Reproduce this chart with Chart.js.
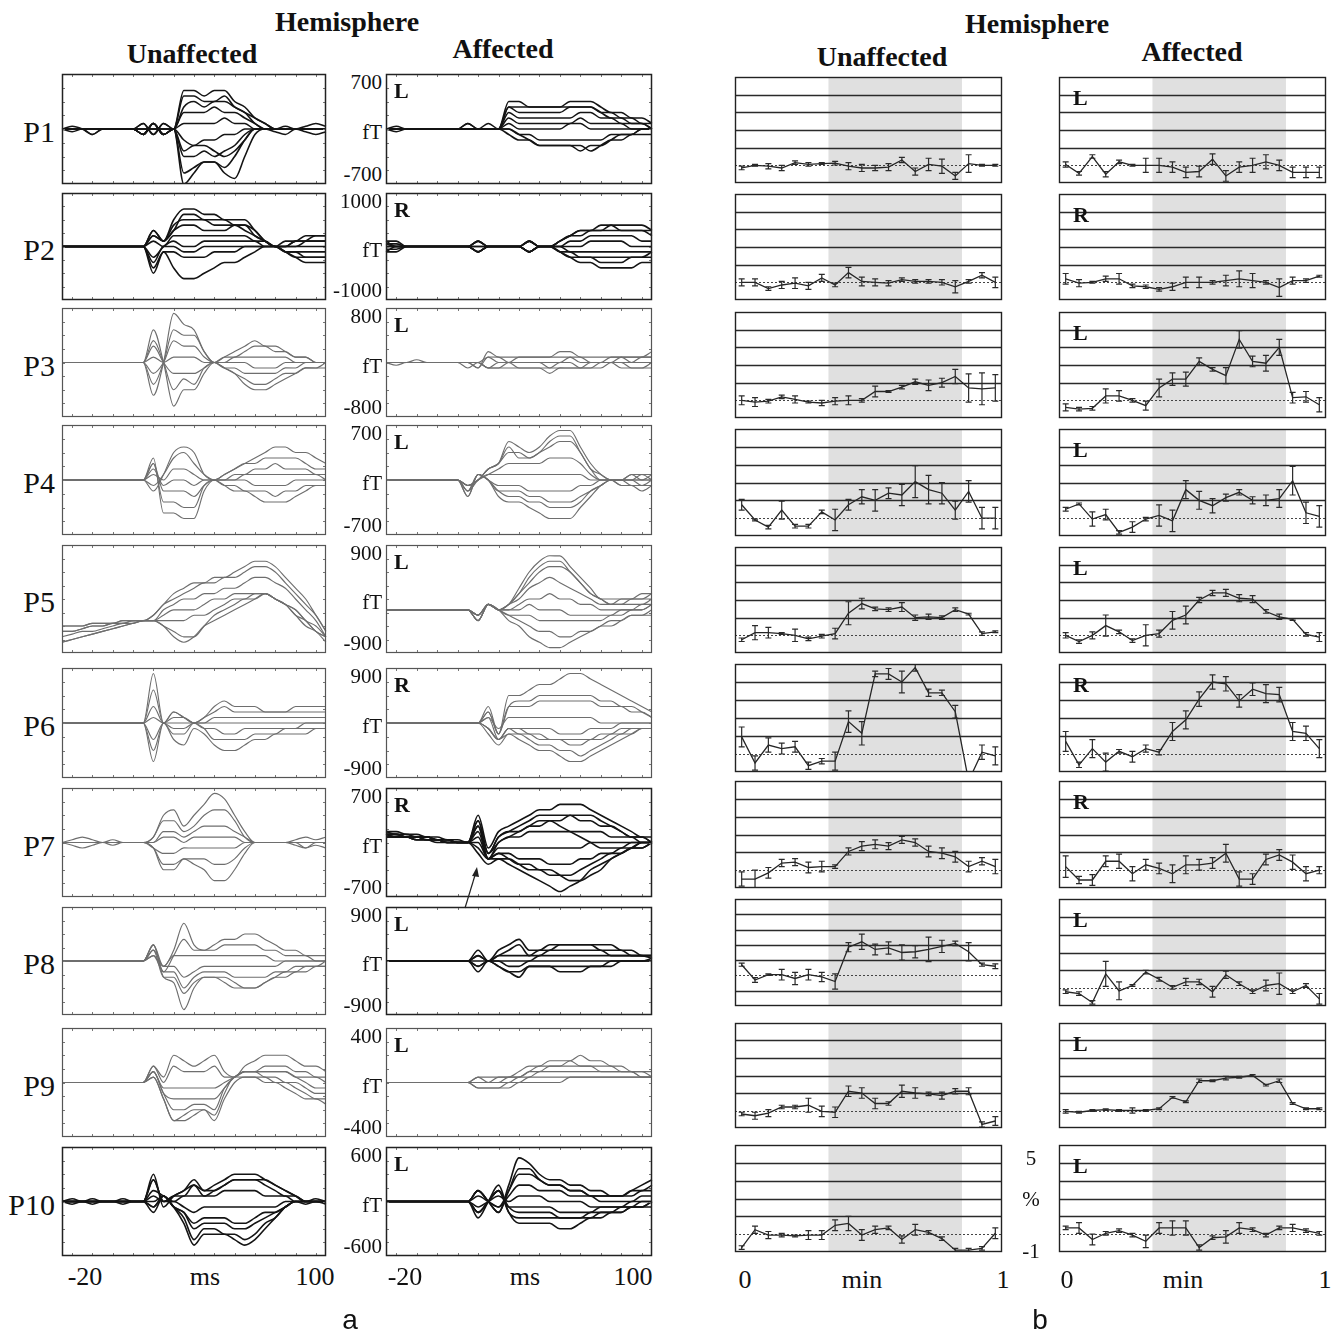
<!DOCTYPE html>
<html>
<head>
<meta charset="utf-8">
<script src="https://cdn.jsdelivr.net/npm/chart.js@4.4.1/dist/chart.umd.min.js"></script>
<style>
body { margin: 0; background: #fff; }
#page { position: relative; width: 1337px; height: 1332px; overflow: hidden; font-family: "Liberation Serif", "Times New Roman", serif; color: #111; }
#page canvas, #page svg { position: absolute; }
.t { position: absolute; white-space: nowrap; line-height: 1; }
.head { font-weight: bold; font-size: 28px; }
.row { font-size: 30px; }
.ax { font-size: 21px; }
.side { font-weight: bold; font-size: 22px; }
.tick { font-size: 26px; }
.part { font-family: "Liberation Sans", Arial, sans-serif; font-size: 28px; }
</style>
</head>
<body>
<div id="page"></div>
<script>
// time samples (ms) for the field traces, and minutes for the % change curves
const msTimes = [-25,-20,-15,-10,-5,0,5,10,15,20,25,30,35,40,45,50,55,60,65,70,75,80,85,90,95,100,105];
const minTimes = [0.025,0.075,0.125,0.175,0.225,0.275,0.325,0.375,0.425,0.475,0.525,0.575,0.625,0.675,0.725,0.775,0.825,0.875,0.925,0.975];
const patients = ["P1","P2","P3","P4","P5","P6","P7","P8","P9","P10"];
const fTRange = [700,1000,800,700,900,900,700,900,400,600];
const sides = ["L","R","L","L","L","R","R","L","L","L"];
const msTickLabels = ["-20","ms","100"];
const minTickLabels = ["0","min","1"];
const pctTickLabels = ["5","%","-1"];
const shadeFrom = 0.35, shadeTo = 0.85;

// field traces, in tenths of the panel's fT range
const p1Unaff = [
  [0,0.5,0,-1,0,0,0,0,1,-1,1,0,7,7,6,7,7,5,4,2,1,0,0.5,0,0.5,1,0.5],
  [0,0,0,0,0,0,0,0,0,0,0,0,6,6,5,5,6,4,3,1,0,0,0,0,0,0,0],
  [0,0,0,0,0,0,0,0,1,-1,1,0,4,5,4,5,5,4,3,2,1,0,0,0,0,0,0],
  [0,0,0,0,0,0,0,0,0,0,0,0,3,3,3,4,3,3,2,1,0,0,0,0,0,0,0],
  [0,0,0,0,0,0,0,0,0,0,0,0,1,1,1,1,2,1,1,0,0,0,0,0,0,0,0],
  [0,0,0,0,0,0,0,0,-1,1,-1,0,-2,-3,-2,-2,-1,-1,0,0,0,0,0,0,0,0,0],
  [0,0,0,0,0,0,0,0,-1,1,-1,0,-4,-3,-3,-4,-5,-4,-2,0,0,0,0,0,0,0,0],
  [0,0,0,0,0,0,0,0,-1,1,-1,0,-5,-5,-4,-5,-4,-3,-1,0,0,0,0,0,0,0,0],
  [0,0,0,0,0,0,0,0,-1,1,-1,0,-8,-7,-6,-6,-7,-5,-2,0,0,0,0,0,0,0,0],
  [0,-0.5,0,-1,0,0,0,0,-1,1,-1,0,-10,-8,-6,-6,-8,-9,-5,-1,0,-0.5,-1,0,-0.5,-1,-0.5]
];
const p1Aff = [
  [0,0,0,0,0,0,0,0,1,0,0,0,5,5,4,4,4,4,5,5,5,4,3,3,2,2,1],
  [0,0,0,0,0,0,0,0,0,0,0,0,4,4,4,4,4,4,4,4,4,3,2,2,1,1,0],
  [0,0,0,0,0,0,0,0,1,0,0,0,4,3,3,3,3,3,4,4,4,3,3,2,2,1,1],
  [0,0.5,0,0,0,0,0,0,0,0,1,0,3,2,2,2,2,2,2,3,3,2,2,1,1,1,0],
  [0,0,0,0,0,0,0,0,0,0,0,0,2,1,1,1,1,1,1,2,1,1,1,1,0,0,0],
  [0,0,0,0,0,0,0,0,0,0,0,0,1,0,0,0,0,0,1,1,0,0,0,0,0,0,0],
  [0,-0.5,0,0,0,0,0,0,0,0,0,0,0,-1,-1,-2,-2,-2,-2,-2,-2,-2,-1,-1,-1,0,0],
  [0,0,0,0,0,0,0,0,0,0,0,0,0,-1,-2,-3,-3,-3,-3,-4,-3,-3,-2,-1,-1,0,0],
  [0,0,0,0,0,0,0,0,0,0,0,0,-1,-2,-2,-3,-3,-3,-3,-3,-4,-3,-2,-2,-1,-1,-1]
];
const p2Unaff = [
  [0,0,0,0,0,0,0,0,0,3,1,5,7,7,6,6,5,5,5,3,1,0,0,0,1,2,2],
  [0,0,0,0,0,0,0,0,0,2,1,3,6,6,5,5,5,4,4,2,1,0,0,1,1,1,1],
  [0,0,0,0,0,0,0,0,0,3,1,4,5,5,5,4,4,4,4,3,1,0,1,1,2,2,2],
  [0,0,0,0,0,0,0,0,0,2,1,3,4,4,3,3,3,4,3,2,1,0,0,1,1,1,1],
  [0,0,0,0,0,0,0,0,0,1,0,2,2,2,2,2,2,2,2,1,1,0,0,0,0,0,0],
  [0,0,0,0,0,0,0,0,0,-2,0,1,0,0,1,1,1,1,1,1,0,0,-1,-1,-1,-1,-1],
  [0,0,0,0,0,0,0,0,0,-3,0,0,-1,-1,0,0,0,0,0,0,0,0,-1,-1,-2,-2,-2],
  [0,0,0,0,0,0,0,0,0,-4,-1,-1,-2,-2,-2,-1,-1,-1,0,0,0,0,-1,-2,-2,-2,-2],
  [0,0,0,0,0,0,0,0,0,-5,-1,-4,-6,-6,-5,-4,-3,-3,-2,-1,0,0,-1,-2,-3,-3,-3]
];
const p2Aff = [
  [1,1,0,0,0,0,0,0,0,1,0,0,0,0,1,0,0,1,2,3,3,4,4,4,4,4,3],
  [0.5,0.5,0,0,0,0,0,0,0,1,0,0,0,0,1,0,0,1,2,3,3,3,4,3,3,3,3],
  [1,0,0,0,0,0,0,0,0,1,0,0,0,0,1,0,0,1,2,2,3,3,3,3,3,3,2],
  [0.5,0,0,0,0,0,0,0,0,0,0,0,0,0,1,0,0,0,1,1,2,2,2,2,2,1,1],
  [0,0,0,0,0,0,0,0,0,0,0,0,0,0,-1,0,0,0,0,0,1,1,1,1,0,0,0],
  [0,0,0,0,0,0,0,0,0,-1,0,0,0,0,-1,0,0,0,-1,-1,-1,-1,-1,-1,-1,-1,-1],
  [-0.5,-0.5,0,0,0,0,0,0,0,-1,0,0,0,0,-1,0,0,-1,-1,-2,-2,-2,-2,-2,-2,-2,-1],
  [-1,0,0,0,0,0,0,0,0,-1,0,0,0,0,-1,0,0,-1,-2,-2,-2,-3,-3,-3,-2,-2,-2],
  [-1,-1,0,0,0,0,0,0,0,-1,0,0,0,0,-1,0,0,-1,-2,-3,-3,-4,-4,-4,-4,-3,-3]
];
const p3Unaff = [
  [0,0,0,0,0,0,0,0,0,-6,0,9,7,6,2,0,1,2,3,4,3,3,2,1,1,0,0],
  [0,0,0,0,0,0,0,0,0,-4,0,6,5,5,2,0,1,1,2,3,3,2,2,1,1,0,0],
  [0,0,0,0,0,0,0,0,0,-2,0,4,3,3,1,0,0,1,1,1,1,1,1,0,0,0,0],
  [0,0,0,0,0,0,0,0,0,1,0,1,1,1,0,0,0,0,0,-1,-1,-1,0,0,0,0,0],
  [0,0,0,0,0,0,0,0,0,3,0,-2,-2,-2,-1,0,-1,-1,-2,-2,-2,-2,-1,-1,0,0,0],
  [0,0,0,0,0,0,0,0,0,4,0,-5,-3,-4,-1,0,-1,-2,-3,-4,-4,-3,-2,-2,-1,-1,0],
  [0,0,0,0,0,0,0,0,0,6,0,-8,-5,-5,-2,0,-1,-2,-4,-5,-5,-4,-3,-2,-1,-1,-1]
];
const p3Aff = [
  [0,0,0,0.5,0,0,0,0,0,-1,2,1,1,1,1,1,1,2,2,1,1,1,1,1,1,1,2],
  [0,0,0,0,0,0,0,0,0,-1,1,1,0,1,1,1,1,1,1,1,0,0,1,1,1,1,1],
  [0,0,0,0,0,0,0,0,0,0,1,0,0,0,0,0,0,0,1,0,0,0,0,1,0,1,1],
  [0,0,0,0,0,0,0,0,0,0,-1,0,0,0,0,0,-1,0,0,-1,0,0,0,0,0,0,0],
  [0,0,0,0,0,0,0,0,0,0,-1,-1,0,-1,-1,-1,-1,-1,-1,-1,-1,0,0,0,-1,-1,0],
  [0,-0.5,0,0,0,0,0,0,-1,0,-1,-1,-1,-1,-1,-1,-2,-1,-1,-1,-1,-1,0,-1,-1,-1,-1]
];
const p4Unaff = [
  [0,0,0,0,0,0,0,0,0,-2,1,5,6,5,1,0,1,2,3,4,5,6,6,5,5,4,3],
  [0,0,0,0,0,0,0,0,0,-1,1,4,5,3,1,0,1,2,3,3,4,4,4,4,3,2,2],
  [0,0,0,0,0,0,0,0,0,1,0,2,2,1,0,0,0,1,1,2,2,3,2,2,2,1,1],
  [0,0,0,0,0,0,0,0,0,2,-1,0,0,-1,0,0,0,0,1,1,1,1,1,1,1,1,0],
  [0,0,0,0,0,0,0,0,0,3,-2,-2,-2,-3,-1,0,0,0,0,-1,-1,-1,-1,0,0,0,0],
  [0,0,0,0,0,0,0,0,0,3,-4,-4,-5,-5,-1,0,-1,-1,-2,-2,-2,-3,-2,-2,-1,-1,-1],
  [0,0,0,0,0,0,0,0,0,4,-6,-6,-7,-7,-2,0,-1,-2,-2,-3,-4,-4,-4,-3,-2,-1,-1]
];
const p4Aff = [
  [0,0,0,0,0,0,0,0,-1,0,2,3,7,6,5,6,8,9,9,6,3,1,0,0,1,1,1],
  [0,0,0,0,0,0,0,0,-1,0,2,3,6,4,4,5,7,8,8,5,2,0,0,0,0,1,0],
  [0,0,0,0,0,0,0,0,-1,0,2,3,5,5,4,5,6,7,7,5,2,1,0,0,1,0,1],
  [0,0,0,0,0,0,0,0,-1,0,1,2,3,3,3,3,4,4,4,3,1,0,0,0,0,0,0],
  [0,0,0,0,0,0,0,0,-2,0,1,1,1,1,1,1,1,1,1,1,0,0,0,0,0,0,0],
  [0,0,0,0,0,0,0,0,-2,1,0,-1,-1,-1,-2,-2,-2,-2,-2,-1,-1,0,0,0,0,-1,0],
  [0,0,0,0,0,0,0,0,-2,1,0,-2,-2,-2,-3,-3,-4,-4,-4,-3,-2,-1,0,0,-1,-1,-1],
  [0,0,0,0,0,0,0,0,-3,1,0,-2,-3,-3,-4,-4,-5,-5,-5,-4,-2,-1,0,-1,-1,-1,-1],
  [0,0,0,0,0,0,0,0,-3,1,0,-3,-4,-4,-5,-6,-7,-7,-7,-5,-3,-1,0,-1,-1,-2,-1]
];
const p5Unaff = [
  [-5,-5,-5,-4.5,-4.5,-4.5,-4,-4,-4,-3,-1,1,2,3,3,4,4,5,6,7,7,6,4,2,0,-3,-6],
  [-5,-5,-5,-4.5,-4.5,-4.5,-4,-4,-4,-3,-1,0,1,2,3,3,4,4,5,6,6,5,3,1,-1,-3,-6],
  [-6,-6,-5.5,-5,-5,-4.5,-4.5,-4,-4,-4,-2,-1,0,0,1,1,2,2,3,4,4,3,2,0,-2,-4,-7],
  [-6,-6,-5.5,-5,-5,-4.5,-4.5,-4,-4,-4,-3,-2,-2,-2,-1,0,0,1,1,1,1,0,-1,-2,-4,-5,-7],
  [-7,-6.5,-6,-6,-5.5,-5,-4.5,-4.5,-4,-4,-4,-4,-4,-3,-3,-2,-1,0,0,1,1,0,-1,-2,-4,-6,-7],
  [-8,-7.5,-7,-6.5,-6,-5.5,-5,-4.5,-4,-4,-5,-6,-7,-7,-5,-3,-2,-1,0,0,1,0,-1,-3,-4,-6,-7],
  [-8,-7.5,-7,-6.5,-6,-5.5,-5,-4.5,-4,-4,-5,-7,-8,-7,-5,-4,-3,-2,-1,0,1,0,-1,-3,-5,-6,-8]
];
const p5Aff = [
  [-2,-2,-2,-2,-2,-2,-2,-2,-2,-3,-1,-2,-1,2,5,7,8,8,6,4,2,0,0,0,0,1,1],
  [-2,-2,-2,-2,-2,-2,-2,-2,-2,-3,-1,-2,-1,1,4,6,7,7,5,3,1,0,-1,0,0,0,1],
  [-2,-2,-2,-2,-2,-2,-2,-2,-2,-3,-1,-2,-1,1,3,5,6,6,5,3,1,0,-1,-1,0,0,0],
  [-2,-2,-2,-2,-2,-2,-2,-2,-2,-4,-1,-2,-1,0,2,3,4,3,2,1,0,-1,-1,-1,-1,-1,0],
  [-2,-2,-2,-2,-2,-2,-2,-2,-2,-4,-1,-2,-2,-1,0,0,1,0,0,-1,-1,-2,-2,-2,-2,-1,-1],
  [-2,-2,-2,-2,-2,-2,-2,-2,-2,-4,-1,-2,-2,-2,-1,-2,-2,-2,-3,-3,-3,-3,-3,-2,-2,-2,-1],
  [-2,-2,-2,-2,-2,-2,-2,-2,-2,-3,-1,-2,-3,-3,-3,-4,-4,-4,-4,-4,-4,-4,-3,-3,-2,-2,-1],
  [-2,-2,-2,-2,-2,-2,-2,-2,-2,-3,-1,-2,-3,-4,-5,-6,-6,-7,-7,-6,-6,-5,-5,-4,-3,-3,-2],
  [-2,-2,-2,-2,-2,-2,-2,-2,-2,-4,-1,-2,-4,-5,-7,-8,-9,-9,-8,-7,-6,-5,-4,-4,-3,-3,-3]
];
const p6Unaff = [
  [0,0,0,0,0,0,0,0,0,9,0,2,1,0,1,3,4,3,3,3,2,2,2,3,3,3,3],
  [0,0,0,0,0,0,0,0,0,6,0,2,1,0,1,2,3,2,2,2,2,2,2,2,2,2,2],
  [0,0,0,0,0,0,0,0,0,3,0,1,1,0,0,1,1,1,1,1,1,1,1,1,1,1,1],
  [0,0,0,0,0,0,0,0,0,1,0,0,0,0,0,0,0,0,0,0,0,0,0,0,0,0,0],
  [0,0,0,0,0,0,0,0,0,-3,0,-1,-1,0,-1,-1,-2,-2,-1,-1,-1,-1,-1,-1,0,0,0],
  [0,0,0,0,0,0,0,0,0,-5,0,-2,-2,0,-1,-3,-3,-3,-3,-2,-2,-2,-1,-1,-1,-1,-1],
  [0,0,0,0,0,0,0,0,0,-7,0,-3,-4,-1,-2,-4,-5,-5,-4,-3,-3,-2,-2,-2,-2,-1,-1]
];
const p6Aff = [
  [0,0,0,0,0,0,0,0,0,0,3,-2,5,5,6,7,7,8,9,9,8,7,6,5,4,3,2],
  [0,0,0,0,0,0,0,0,0,0,2,-2,3,4,4,5,5,5,5,5,5,4,4,3,3,2,1],
  [0,0,0,0,0,0,0,0,0,0,2,-2,3,3,3,4,4,4,4,4,4,3,3,3,2,2,1],
  [0,0,0,0,0,0,0,0,0,0,1,-1,1,1,1,1,1,1,1,1,1,0,0,0,0,0,0],
  [0,0,0,0,0,0,0,0,0,0,1,-3,-1,-1,-1,-1,-1,-2,-2,-2,-1,-1,-1,0,0,0,0],
  [0,0,0,0,0,0,0,0,0,0,-1,-3,-1,-1,-2,-2,-3,-3,-3,-3,-3,-2,-2,-1,-1,-1,-1],
  [0,0,0,0,0,0,0,0,0,0,-1,-3,-1,-2,-2,-3,-3,-3,-4,-4,-3,-3,-2,-2,-1,-1,-1],
  [0,0,0,0,0,0,0,0,0,0,-1,-3,-2,-2,-3,-4,-4,-5,-5,-6,-5,-4,-3,-2,-2,-1,-1],
  [0,0,0,0,0,0,0,0,0,0,-2,-4,-2,-3,-4,-5,-5,-6,-7,-7,-6,-5,-4,-3,-2,-1,-1]
];
const p7Unaff = [
  [0,0.5,1,0.5,0,0.5,0,0,0,1,5,6,3,5,7,9,8,5,2,0,0,0,0,0.5,1,0.5,1],
  [0,0,0,0,0,0,0,0,0,1,4,4,2,3,5,6,6,4,1,0,0,0,0,0,0,0,0],
  [0,0,0,0,0,0,0,0,0,0,2,2,1,2,3,3,3,2,1,0,0,0,0,0,0,0,0],
  [0,0,0,0,0,0,0,0,0,0,1,1,0,1,1,1,1,1,0,0,0,0,0,0,0,0,0],
  [0,0,0,0,0,0,0,0,0,-1,-2,-2,-1,-1,-1,-1,-1,-1,0,0,0,0,0,0,0,0,0],
  [0,0,0,0,0,0,0,0,0,-1,-4,-4,-3,-3,-3,-4,-4,-3,-1,0,0,0,0,0,-1,0,0],
  [0,-0.5,-1,-0.5,0,-0.5,0,0,0,-1,-5,-5,-3,-4,-5,-7,-7,-5,-2,0,0,0,0,-0.5,-1,-0.5,-1]
];
const p7Aff = [
  [2,2,1.5,1.5,1,1,0.5,0.5,0,5,-1,2,3,4,5,6,6,7,7,7,6,5,4,3,2,1,1],
  [2,1.5,1.5,1,1,0.5,0.5,0,0,4,-2,1,2,3,4,5,5,5,5,4,4,3,3,2,1,1,0],
  [1.5,1.5,1,1,1,0.5,0.5,0,0,4,-2,1,2,2,3,3,4,4,5,5,5,4,3,2,1,1,0],
  [1.5,1.5,1,1,1,0.5,0.5,0,0,3,-2,0,1,1,2,2,2,2,2,2,2,2,1,1,1,0,0],
  [1.5,1.5,1,1,1,0.5,0.5,0,0,2,-3,-1,-1,-1,-1,-1,-1,-1,-1,-1,0,0,0,0,0,0,0],
  [1.5,1,1,1,0.5,0.5,0,0,0,1,-3,-2,-2,-3,-3,-3,-4,-4,-4,-3,-3,-2,-2,-1,-1,0,0],
  [1.5,1,1,1,0.5,0.5,0,0,0,-1,-3,-3,-3,-4,-5,-5,-6,-6,-6,-5,-4,-3,-2,-2,-1,-1,0],
  [1,1,1,0.5,0.5,0.5,0,0,0,0,-3,-2,-3,-4,-4,-5,-5,-6,-7,-7,-6,-5,-3,-2,-1,0,0],
  [1,1,1,0.5,0.5,0.5,0,0,0,-2,-4,-3,-4,-5,-6,-7,-8,-9,-8,-7,-5,-4,-3,-2,-1,-1,0],
  [1,1,1,0.5,0.5,0,0,0,0,3,-3,0,1,2,3,4,4,3,2,1,0,-1,-1,-1,0,0,0]
];
const p8Unaff = [
  [0,0,0,0,0,0,0,0,0,3,-1,2,7,3,2,3,4,4,5,5,4,3,2,2,1,1,1],
  [0,0,0,0,0,0,0,0,0,3,-2,1,4,2,2,2,3,3,3,3,2,2,1,1,1,0,0],
  [0,0,0,0,0,0,0,0,0,2,-1,1,1,1,1,1,1,1,1,1,1,0,0,0,0,0,0],
  [0,0,0,0,0,0,0,0,0,1,-1,-1,-3,-2,-1,-1,-1,-1,-1,-1,-1,-1,0,0,0,0,0],
  [0,0,0,0,0,0,0,0,0,1,-2,-2,-5,-3,-2,-2,-2,-3,-3,-3,-3,-2,-2,-1,-1,-1,0],
  [0,0,0,0,0,0,0,0,0,2,-3,-3,-6,-4,-3,-3,-3,-4,-5,-5,-4,-3,-2,-2,-1,-1,-1],
  [0,0,0,0,0,0,0,0,0,3,-3,-4,-9,-5,-3,-3,-4,-5,-5,-5,-4,-3,-3,-2,-2,-1,-1]
];
const p8Aff = [
  [0,0,0,0,0,0,0,0,0,2,0,2,3,4,2,2,3,3,3,3,3,3,3,2,2,1,1],
  [0,0,0,0,0,0,0,0,0,1,0,1,2,3,1,2,2,3,3,3,3,2,2,2,1,1,1],
  [0,0,0,0,0,0,0,0,0,1,0,1,1,1,1,1,2,2,2,2,2,2,1,1,1,1,1],
  [0,0,0,0,0,0,0,0,0,0,0,0,0,0,0,1,1,1,1,1,1,1,1,1,1,1,0.5],
  [0,0,0,0,0,0,0,0,0,-1,0,0,-1,-1,0,0,0,0,0,0,0,0,0,0,0,0,0.5],
  [0,0,0,0,0,0,0,0,0,-1,0,-1,-2,-2,-1,-1,-1,-1,-1,-1,-1,-1,0,0,0,0,0],
  [0,0,0,0,0,0,0,0,0,-2,0,-1,-2,-3,-1,-1,-1,-2,-2,-2,-1,-1,-1,0,0,0,0]
];
const p9Unaff = [
  [0,0,0,0,0,0,0,0,0,3,1,5,4,3,4,5,2,1,3,4,5,5,5,4,3,3,2],
  [0,0,0,0,0,0,0,0,0,3,0,3,2,2,2,3,1,1,2,2,3,3,3,2,2,1,1],
  [0,0,0,0,0,0,0,0,0,2,-1,-1,-1,-1,-1,-1,0,1,2,2,2,2,2,1,1,1,0],
  [0,0,0,0,0,0,0,0,0,2,-2,-3,-3,-3,-3,-3,-1,1,2,2,2,2,2,1,0,-1,-1],
  [0,0,0,0,0,0,0,0,0,2,-2,-5,-5,-4,-4,-5,-1,1,2,2,1,1,0,0,-1,-2,-2],
  [0,0,0,0,0,0,0,0,0,1,-3,-7,-6,-5,-5,-6,-2,1,1,1,1,0,0,-1,-2,-3,-3],
  [0,0,0,0,0,0,0,0,0,1,-3,-7,-7,-6,-5,-7,-3,0,1,1,0,0,-1,-2,-3,-3,-4]
];
const p9Aff = [
  [0,0,0,0,0,0,0,0,0,1,1,1,1,2,3,3,4,4,4,5,4,4,3,3,2,2,2],
  [0,0,0,0,0,0,0,0,0,1,0,1,1,1,2,3,3,3,4,3,3,3,3,2,2,2,1],
  [0,0,0,0,0,0,0,0,0,0,0,0,1,1,2,2,3,3,3,3,3,2,2,2,2,1,1],
  [0,0,0,0,0,0,0,0,0,0,0,0,0,1,1,2,2,2,2,2,2,2,2,2,2,1,1],
  [0,0,0,0,0,0,0,0,0,-1,-1,-1,0,0,1,1,1,1,1,1,1,1,1,1,1,1,1],
  [0,0,0,0,0,0,0,0,0,-1,-1,-1,-1,0,0,0,0,0,1,1,1,1,1,1,1,1,1]
];
const p10Unaff = [
  [0,0.5,0,0.5,0,0,0.5,0,0,5,-1,1,2,4,2,3,4,5,5,5,4,3,2,1,0,0.5,0],
  [0,0,0,0,0,0,0,0,0,4,0,1,1,3,1,2,3,4,4,4,3,2,1,1,0,0,0],
  [0,0,0,0,0,0,0,0,0,4,0,1,2,3,2,2,3,4,4,4,4,3,2,1,0,0,0],
  [0,0,0,0,0,0,0,0,0,2,1,0,1,1,1,1,2,2,2,2,1,1,1,0,0,0,0],
  [0,0,0,0,0,0,0,0,0,1,0,0,-1,-2,-1,-1,-1,-1,-1,-1,-1,-1,0,0,0,0,0],
  [0,0,0,0,0,0,0,0,0,-1,1,-1,-2,-4,-3,-3,-3,-4,-4,-3,-2,-2,-1,0,0,0,0],
  [0,0,0,0,0,0,0,0,0,0,1,-1,-2,-5,-4,-4,-4,-5,-5,-4,-3,-2,-1,0,0,0,0],
  [0,0,0,0,0,0,0,0,0,-1,1,-1,-3,-7,-5,-5,-6,-6,-7,-6,-4,-3,-1,0,0,0,0],
  [0,-0.5,0,-0.5,0,0,-0.5,0,0,-2,1,-1,-4,-8,-6,-6,-6,-7,-8,-7,-5,-3,-1,0,-0.5,0,-0.5]
];
const p10Aff = [
  [0,0,0,0,0,0,0,0,0,2,0,-2,3,8,7,5,4,4,3,3,2,2,1,1,2,3,4],
  [0,0,0,0,0,0,0,0,0,2,0,-2,2,6,6,4,3,3,2,2,1,1,1,1,2,2,3],
  [0,0,0,0,0,0,0,0,0,2,0,-1,2,5,5,4,3,3,2,2,1,1,1,1,1,2,2],
  [0,0,0,0,0,0,0,0,0,1,0,-1,1,3,3,2,2,2,1,1,1,0,0,0,0,1,1],
  [0,0,0,0,0,0,0,0,0,-1,0,1,0,1,1,1,0,0,0,0,-1,-1,-1,-1,0,0,0],
  [0,0,0,0,0,0,0,0,0,-2,0,2,-1,-1,-1,-1,-1,-2,-2,-2,-2,-1,-1,-1,-1,0,0],
  [0,0,0,0,0,0,0,0,0,-2,0,2,-1,-2,-2,-2,-2,-3,-3,-3,-3,-2,-2,-2,-1,-1,0],
  [0,0,0,0,0,0,0,0,0,-2,0,2,-2,-3,-3,-3,-3,-3,-3,-3,-2,-2,-2,-1,-1,-1,0],
  [0,0,0,0,0,0,0,0,0,-3,0,3,-2,-4,-4,-4,-4,-5,-5,-4,-3,-3,-2,-2,-1,-1,-1]
];

// % change, mean and error per 3 s bin
const pct1UnaffMean = [-0.15,0,-0.05,-0.15,0.15,0.05,0.1,0.12,-0.05,-0.15,-0.15,-0.1,0.3,-0.35,0.05,-0.05,-0.6,0.1,0,0];
const pct1UnaffErr = [0.1,0.05,0.15,0.15,0.1,0.1,0.05,0.1,0.2,0.2,0.15,0.2,0.15,0.2,0.35,0.4,0.2,0.5,0.05,0.05];
const pct1AffMean = [0.05,-0.45,0.5,-0.5,0.2,0,0,0,-0.1,-0.4,-0.35,0.35,-0.6,-0.1,0,0.2,0,-0.4,-0.4,-0.4];
const pct1AffErr = [0.15,0.1,0.1,0.15,0.1,0.05,0.4,0.4,0.3,0.3,0.3,0.3,0.3,0.3,0.4,0.4,0.3,0.3,0.3,0.3];
const pct2UnaffMean = [0,0,-0.35,-0.15,-0.05,-0.2,0.25,-0.15,0.55,0.05,0,-0.05,0.15,0.05,0.05,0,-0.25,0.05,0.4,0];
const pct2UnaffErr = [0.2,0.2,0.1,0.2,0.3,0.2,0.2,0.1,0.3,0.25,0.2,0.15,0.1,0.1,0.1,0.15,0.35,0.1,0.15,0.3];
const pct2AffMean = [0.2,-0.05,0,0.2,0.2,-0.2,-0.25,-0.4,-0.25,0,0,0,0.1,0.2,0.1,0,-0.3,0.1,0.1,0.35];
const pct2AffErr = [0.3,0.2,0.05,0.15,0.3,0.1,0.1,0.1,0.2,0.3,0.3,0.1,0.3,0.45,0.4,0.1,0.5,0.2,0.1,0.05];
const pct3UnaffMean = [0,-0.1,-0.05,0.2,0.05,-0.1,-0.15,-0.05,0,0,0.5,0.5,0.75,1.05,0.85,1.0,1.35,0.7,0.65,0.7];
const pct3UnaffErr = [0.25,0.25,0.1,0.1,0.2,0.05,0.15,0.2,0.25,0.1,0.3,0.05,0.1,0.15,0.3,0.25,0.4,0.8,0.9,0.75];
const pct3AffMean = [-0.4,-0.5,-0.45,0.25,0.25,0,-0.3,0.7,1.2,1.2,2.2,1.75,1.4,3.45,2.2,2.1,3.0,0.15,0.2,-0.25];
const pct3AffErr = [0.2,0.1,0.1,0.4,0.3,0.1,0.25,0.5,0.35,0.4,0.2,0.1,0.45,0.5,0.3,0.45,0.45,0.3,0.3,0.4];
const pct4UnaffMean = [0.75,-0.1,-0.5,0.45,-0.45,-0.45,0.35,-0.1,0.75,1.2,1.0,1.4,1.3,2.05,1.6,1.4,0.45,1.5,0,0];
const pct4UnaffErr = [0.3,0.05,0.1,0.5,0.1,0.1,0.1,0.6,0.3,0.4,0.6,0.3,0.6,0.9,0.8,0.6,0.5,0.6,0.6,0.6];
const pct4AffMean = [0.5,0.8,-0.05,0.2,-0.8,-0.5,-0.05,0.15,-0.15,1.6,1.0,0.7,1.15,1.45,1.0,1.0,1.1,2.1,0.3,0.1];
const pct4AffErr = [0.1,0.05,0.4,0.3,0.1,0.3,0.1,0.6,0.6,0.5,0.5,0.4,0.2,0.15,0.2,0.3,0.5,0.8,0.6,0.6];
const pct5UnaffMean = [-0.25,0.15,0.15,0.1,0,-0.2,-0.05,0.1,1.25,1.8,1.5,1.45,1.6,1.0,1.05,1.0,1.45,1.2,0.1,0.2];
const pct5UnaffErr = [0.1,0.4,0.3,0.05,0.35,0.1,0.1,0.3,0.65,0.3,0.1,0.1,0.25,0.15,0.15,0.1,0.1,0.05,0.1,0.05];
const pct5AffMean = [0,-0.35,0,0.55,0.2,-0.3,0,0.1,0.85,1.15,2.0,2.4,2.4,2.1,2.05,1.35,1.05,0.9,0.05,-0.1];
const pct5AffErr = [0.15,0.1,0.2,0.6,0.1,0.1,0.6,0.2,0.5,0.5,0.15,0.15,0.2,0.2,0.2,0.1,0.15,0.05,0.1,0.25];
const pct6UnaffMean = [0.95,-0.5,0.5,0.3,0.4,-0.65,-0.4,-0.4,1.8,1.15,4.45,4.45,4.0,4.8,3.4,3.4,2.35,-1.5,0.1,-0.1];
const pct6UnaffErr = [0.55,0.4,0.4,0.3,0.3,0.2,0.15,0.5,0.6,0.65,0.15,0.3,0.6,0.2,0.2,0.15,0.35,0.3,0.4,0.5];
const pct6AffMean = [0.7,-0.6,0.3,-0.45,0.15,-0.15,0.3,0.1,1.25,1.9,3.05,4.0,3.9,2.95,3.6,3.35,3.3,1.25,1.15,0.3];
const pct6AffErr = [0.55,0.15,0.5,0.5,0.1,0.3,0.2,0.15,0.5,0.5,0.4,0.4,0.4,0.35,0.35,0.5,0.4,0.5,0.4,0.5];
const pct7UnaffMean = [-0.5,-0.5,-0.15,0.4,0.45,0.15,0.2,0.2,1.05,1.35,1.45,1.35,1.7,1.55,1.05,0.95,0.75,0.2,0.5,0.2];
const pct7UnaffErr = [0.4,0.5,0.3,0.2,0.2,0.3,0.3,0.1,0.2,0.25,0.25,0.2,0.2,0.2,0.3,0.3,0.3,0.3,0.2,0.4];
const pct7AffMean = [0.2,-0.55,-0.55,0.5,0.5,-0.2,0.3,0.1,-0.2,0.3,0.3,0.4,0.95,-0.5,-0.5,0.6,0.85,0.45,-0.2,0];
const pct7AffErr = [0.6,0.2,0.3,0.3,0.4,0.4,0.3,0.3,0.5,0.5,0.3,0.3,0.5,0.4,0.3,0.3,0.3,0.4,0.4,0.2];
const pct8UnaffMean = [0.7,-0.3,0.05,0.05,-0.2,0.05,-0.1,-0.4,1.85,2.2,1.7,1.8,1.5,1.55,1.7,1.9,2.1,1.55,0.7,0.6];
const pct8UnaffErr = [0.1,0.15,0.05,0.35,0.4,0.35,0.3,0.5,0.3,0.5,0.35,0.4,0.5,0.4,0.8,0.4,0.15,0.6,0.1,0.15];
const pct8AffMean = [-0.2,-0.3,-0.8,0.8,-0.15,0.15,0.9,0.5,0.05,0.35,0.35,-0.2,0.75,0.25,-0.2,0.15,0.25,-0.2,0.15,-0.6];
const pct8AffErr = [0.1,0.1,0.1,0.7,0.5,0.05,0.1,0.1,0.1,0.2,0.15,0.3,0.2,0.1,0.1,0.3,0.6,0.1,0.1,0.3];
const pct9UnaffMean = [-0.2,-0.3,-0.15,0.2,0.2,0.3,-0.05,-0.1,1.1,1.0,0.4,0.4,1.1,1.0,0.95,0.85,1.1,1.1,-0.8,-0.6];
const pct9UnaffErr = [0.1,0.2,0.2,0.1,0.1,0.4,0.3,0.3,0.3,0.3,0.3,0.1,0.35,0.3,0.1,0.2,0.15,0.2,0.15,0.25];
const pct9AffMean = [-0.05,-0.1,0,0.05,0,0,0,0.1,0.75,0.5,1.7,1.7,1.85,1.9,2.0,1.45,1.7,0.4,0.1,0.1];
const pct9AffErr = [0.1,0.05,0.05,0.05,0.05,0.15,0.05,0.05,0.05,0.05,0.1,0.05,0.1,0.05,0.05,0.05,0.1,0.05,0.05,0.05];
const pct10UnaffMean = [-0.75,0.25,-0.05,-0.05,-0.1,-0.05,-0.05,0.5,0.6,-0.05,0.25,0.35,-0.3,0.25,0.1,-0.25,-0.9,-0.9,-0.8,0.05];
const pct10UnaffErr = [0.1,0.2,0.2,0.1,0.05,0.25,0.25,0.3,0.4,0.3,0.2,0.1,0.2,0.3,0.1,0.1,0.1,0.1,0.1,0.3];
const pct10AffMean = [0.35,0.35,-0.3,0.05,0.2,-0.05,-0.4,0.35,0.35,0.35,-0.75,-0.2,-0.15,0.35,0.25,-0.05,0.35,0.35,0.2,0.05];
const pct10AffErr = [0.1,0.3,0.3,0.1,0.1,0.1,0.35,0.3,0.4,0.4,0.15,0.1,0.35,0.3,0.1,0.1,0.1,0.2,0.1,0.1];

const waveUnaff = [p1Unaff,p2Unaff,p3Unaff,p4Unaff,p5Unaff,p6Unaff,p7Unaff,p8Unaff,p9Unaff,p10Unaff];
const waveAff = [p1Aff,p2Aff,p3Aff,p4Aff,p5Aff,p6Aff,p7Aff,p8Aff,p9Aff,p10Aff];
const darkUnaff = [true,true,false,false,false,false,false,false,false,true];
const darkAff = [true,true,false,false,false,false,true,true,false,true];
const pctUnaff = [
  [pct1UnaffMean,pct1UnaffErr],[pct2UnaffMean,pct2UnaffErr],[pct3UnaffMean,pct3UnaffErr],[pct4UnaffMean,pct4UnaffErr],[pct5UnaffMean,pct5UnaffErr],
  [pct6UnaffMean,pct6UnaffErr],[pct7UnaffMean,pct7UnaffErr],[pct8UnaffMean,pct8UnaffErr],[pct9UnaffMean,pct9UnaffErr],[pct10UnaffMean,pct10UnaffErr]
];
const pctAff = [
  [pct1AffMean,pct1AffErr],[pct2AffMean,pct2AffErr],[pct3AffMean,pct3AffErr],[pct4AffMean,pct4AffErr],[pct5AffMean,pct5AffErr],
  [pct6AffMean,pct6AffErr],[pct7AffMean,pct7AffErr],[pct8AffMean,pct8AffErr],[pct9AffMean,pct9AffErr],[pct10AffMean,pct10AffErr]
];
const pctMin = [-1,-1,-1,-1,-1,-1,-1,-2,-1,-1]; // P8 unaffected panel has one extra grid band

// layout
const aRows = [[74,184],[193,300],[308,417],[425,535],[545,653],[668,778],[788,897],[907,1015],[1028,1137],[1147,1256]];
const aCols = [[62,326],[386,652]];
const bRows = [[77,183],[194,300],[312,418],[429,536],[547,653],[664,772],[781,888],[899,1006],[1023,1128],[1145,1252]];
const bCols = [[735,1002],[1059,1326]];

const page = document.getElementById("page");

function addText(txt, x, y, cls, anchor) {
  const d = document.createElement("div");
  d.className = "t " + cls;
  d.textContent = txt;
  d.style.left = x + "px";
  d.style.top = y + "px";
  d.style.transform = anchor === "r" ? "translate(-100%,-50%)" : anchor === "l" ? "translate(0,-50%)" : "translate(-50%,-50%)";
  page.appendChild(d);
}

function makeCanvas(x0, y0, x1, y1) {
  const c = document.createElement("canvas");
  c.width = x1 - x0 + 2;
  c.height = y1 - y0 + 2;
  c.style.left = (x0 - 1) + "px";
  c.style.top = (y0 - 1) + "px";
  page.appendChild(c);
  return c;
}

const frame = {
  id: "frame",
  afterDraw(chart, args, opts) {
    const { ctx, chartArea: a } = chart;
    ctx.save();
    ctx.strokeStyle = opts.color;
    ctx.lineWidth = opts.width;
    ctx.strokeRect(a.left + 0.5, a.top + 0.5, a.right - a.left - 1, a.bottom - a.top - 1);
    ctx.restore();
  }
};

// little inner tick marks on the field panels
const waveTicks = {
  id: "waveTicks",
  afterDraw(chart, args, opts) {
    const { ctx, chartArea: a, scales: { x, y } } = chart;
    ctx.save();
    ctx.strokeStyle = "#777";
    ctx.lineWidth = 1;
    ctx.beginPath();
    for (let t = -20; t <= 100; t += 10) {
      const px = Math.round(x.getPixelForValue(msTimes.indexOf(t))) + 0.5;
      ctx.moveTo(px, a.top); ctx.lineTo(px, a.top + 3);
      ctx.moveTo(px, a.bottom); ctx.lineTo(px, a.bottom - 3);
    }
    for (let k = -3; k <= 3; k++) {
      const py = Math.round(y.getPixelForValue(k * opts.range / 4)) + 0.5;
      ctx.moveTo(a.left, py); ctx.lineTo(a.left + 3, py);
      ctx.moveTo(a.right, py); ctx.lineTo(a.right - 3, py);
    }
    ctx.stroke();
    ctx.restore();
  }
};

function waveChart(canvas, traces, range, dark) {
  return new Chart(canvas, {
    type: "line",
    data: {
      labels: msTimes,
      datasets: traces.map(tr => ({
        data: tr.map(v => v * range / 10),
        borderColor: dark ? "#141414" : "#6e6e6e",
        borderWidth: dark ? 1.6 : 1.15,
        pointRadius: 0,
        cubicInterpolationMode: "monotone",
        fill: false
      }))
    },
    options: {
      responsive: false,
      animation: false,
      devicePixelRatio: 1,
      layout: { padding: 1 },
      events: [],
      scales: {
        x: { type: "category", display: false, offset: false },
        y: { display: false, min: -range, max: range }
      },
      plugins: {
        legend: { display: false },
        tooltip: { enabled: false },
        frame: { color: dark ? "#222" : "#555", width: dark ? 1.5 : 1.2 },
        waveTicks: { range: range }
      }
    },
    plugins: [waveTicks, frame]
  });
}

const pctDecor = {
  id: "pctDecor",
  beforeDatasetsDraw(chart) {
    const { ctx, chartArea: a, scales: { x, y } } = chart;
    ctx.save();
    const x0 = x.getPixelForValue(shadeFrom), x1 = x.getPixelForValue(shadeTo);
    ctx.fillStyle = "#e0e0e0";
    ctx.fillRect(x0, a.top, x1 - x0, a.bottom - a.top);
    for (let v = y.min + 1; v < y.max; v++) {
      const py = Math.round(y.getPixelForValue(v)) + 0.5;
      ctx.beginPath();
      if (v === 0) {
        ctx.setLineDash([2, 2]);
        ctx.strokeStyle = "#444";
        ctx.lineWidth = 1;
      } else {
        ctx.setLineDash([]);
        ctx.strokeStyle = "#2a2a2a";
        ctx.lineWidth = 1.4;
      }
      ctx.moveTo(a.left, py);
      ctx.lineTo(a.right, py);
      ctx.stroke();
    }
    ctx.restore();
  }
};

const errorBars = {
  id: "errorBars",
  afterDatasetsDraw(chart) {
    const { ctx, chartArea: a, scales: { x, y } } = chart;
    ctx.save();
    ctx.beginPath();
    ctx.rect(a.left, a.top, a.right - a.left, a.bottom - a.top);
    ctx.clip();
    ctx.strokeStyle = "#2a2a2a";
    ctx.lineWidth = 1.2;
    chart.data.datasets[0].data.forEach(p => {
      const px = x.getPixelForValue(p.x);
      const top = y.getPixelForValue(p.y + p.err);
      const bot = y.getPixelForValue(p.y - p.err);
      ctx.beginPath();
      ctx.moveTo(px, top); ctx.lineTo(px, bot);
      ctx.moveTo(px - 3, top); ctx.lineTo(px + 3, top);
      ctx.moveTo(px - 3, bot); ctx.lineTo(px + 3, bot);
      ctx.stroke();
    });
    ctx.restore();
  }
};

function pctChart(canvas, means, errs, yMin) {
  return new Chart(canvas, {
    type: "line",
    data: {
      datasets: [{
        data: means.map((m, i) => ({ x: minTimes[i], y: m, err: errs[i] })),
        borderColor: "#262626",
        borderWidth: 1.3,
        pointRadius: 0,
        tension: 0,
        fill: false
      }]
    },
    options: {
      responsive: false,
      animation: false,
      devicePixelRatio: 1,
      layout: { padding: 1 },
      events: [],
      scales: {
        x: { type: "linear", display: false, min: 0, max: 1 },
        y: { display: false, min: yMin, max: 5 }
      },
      plugins: {
        legend: { display: false },
        tooltip: { enabled: false },
        frame: { color: "#222", width: 1.4 }
      }
    },
    plugins: [pctDecor, errorBars, frame]
  });
}

// headings
addText("Hemisphere", 347, 22, "head");
addText("Unaffected", 192, 54, "head");
addText("Affected", 503, 49, "head");
addText("Hemisphere", 1037, 24, "head");
addText("Unaffected", 882, 57, "head");
addText("Affected", 1192, 52, "head");

patients.forEach((p, i) => {
  const [top, bot] = aRows[i];
  const mid = (top + bot) / 2;
  addText(p, 55, mid + 3, "row", "r");
  waveChart(makeCanvas(aCols[0][0], top, aCols[0][1], bot), waveUnaff[i], fTRange[i], darkUnaff[i]);
  waveChart(makeCanvas(aCols[1][0], top, aCols[1][1], bot), waveAff[i], fTRange[i], darkAff[i]);
  addText(String(fTRange[i]), 382, top + 8, "ax", "r");
  addText("fT", 382, mid + 3, "ax", "r");
  addText("-" + fTRange[i], 382, bot - 10, "ax", "r");
  addText(sides[i], aCols[1][0] + 8, top + 17, "side", "l");

  const [bt, bb] = bRows[i];
  pctChart(makeCanvas(bCols[0][0], bt, bCols[0][1], bb), pctUnaff[i][0], pctUnaff[i][1], pctMin[i]);
  pctChart(makeCanvas(bCols[1][0], bt, bCols[1][1], bb), pctAff[i][0], pctAff[i][1], -1);
  addText(sides[i], bCols[1][0] + 14, bt + 21, "side", "l");
});

// arrow pointing at the early P7 deflection
const svgNS = "http://www.w3.org/2000/svg";
const arrow = document.createElementNS(svgNS, "svg");
arrow.setAttribute("width", "40");
arrow.setAttribute("height", "60");
arrow.style.left = "450px";
arrow.style.top = "860px";
arrow.innerHTML = '<line x1="15" y1="48" x2="26" y2="12" stroke="#222" stroke-width="1.2"/>' +
  '<polygon points="27,7 22,16 29,17" fill="#222"/>';
page.appendChild(arrow);

// bottom axis words
[[85,205,315],[405,525,633]].forEach(xs => xs.forEach((x, k) => addText(msTickLabels[k], x, 1277, "tick")));
[[745,862,1003],[1067,1183,1325]].forEach(xs => xs.forEach((x, k) => addText(minTickLabels[k], x, 1280, "tick")));
addText(pctTickLabels[0], 1031, 1158, "ax");
addText(pctTickLabels[1], 1031, 1199, "ax");
addText(pctTickLabels[2], 1031, 1251, "ax");
addText("a", 350, 1320, "part");
addText("b", 1040, 1320, "part");
</script>
</body>
</html>
